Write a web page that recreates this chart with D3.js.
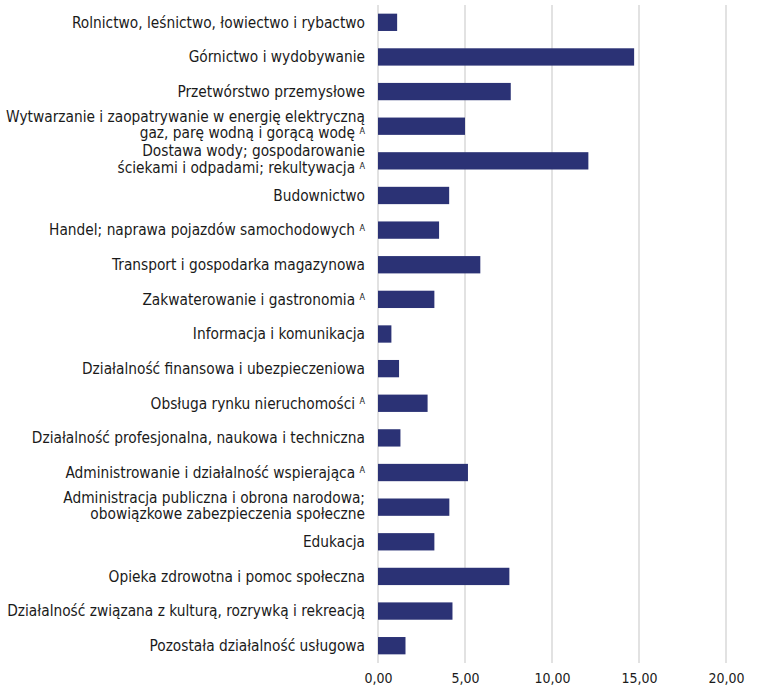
<!DOCTYPE html>
<html>
<head>
<meta charset="utf-8">
<script src="https://cdn.jsdelivr.net/npm/d3@7"></script>
<style>
  body { margin: 0; background: #fff; }
  .label { font-family: "DejaVu Sans Condensed", sans-serif; font-size: 15.3px; fill: #1a1a1a; }
  .tick text { font-family: "DejaVu Sans Condensed", sans-serif; font-size: 14px; fill: #1a1a1a; }
</style>
</head>
<body>
<div id="chart"></div>
<script>

// categories (each entry = lines of the label), "A" footnote flag separate
var categories = [
  ["Rolnictwo, leśnictwo, łowiectwo i rybactwo"],
  ["Górnictwo i wydobywanie"],
  ["Przetwórstwo przemysłowe"],
  ["Wytwarzanie i zaopatrywanie w energię elektryczną", "gaz, parę wodną i gorącą wodę"],
  ["Dostawa wody; gospodarowanie", "ściekami i odpadami; rekultywacja"],
  ["Budownictwo"],
  ["Handel; naprawa pojazdów samochodowych"],
  ["Transport i gospodarka magazynowa"],
  ["Zakwaterowanie i gastronomia"],
  ["Informacja i komunikacja"],
  ["Działalność finansowa i ubezpieczeniowa"],
  ["Obsługa rynku nieruchomości"],
  ["Działalność profesjonalna, naukowa i techniczna"],
  ["Administrowanie i działalność wspierająca"],
  ["Administracja publiczna i obrona narodowa;", "obowiązkowe zabezpieczenia społeczne"],
  ["Edukacja"],
  ["Opieka zdrowotna i pomoc społeczna"],
  ["Działalność związana z kulturą, rozrywką i rekreacją"],
  ["Pozostała działalność usługowa"]
];
var footnoteA = [0,0,0,1,1,0,1,0,1,0,0,1,0,1,0,0,0,0,0];
var values = [1.10, 14.72, 7.63, 5.00, 12.09, 4.09, 3.51, 5.88, 3.24, 0.77, 1.21, 2.85, 1.29, 5.17, 4.10, 3.24, 7.55, 4.28, 1.58];
var xTicks = [0, 5, 10, 15, 20];

var width = 758, height = 697;
var margin = {top: 5, right: 32, bottom: 34, left: 378};

var svg = d3.select("#chart").append("svg")
    .attr("width", width)
    .attr("height", height);

var x = d3.scaleLinear()
    .domain([0, 20])
    .range([margin.left, width - margin.right]);

var y = d3.scaleBand()
    .domain(d3.range(categories.length))
    .range([margin.top, height - margin.bottom])
    .paddingInner(0.5)
    .paddingOuter(0.25);

// gridlines
svg.append("g")
    .selectAll("line")
    .data(xTicks)
    .enter().append("line")
    .attr("x1", function(d) { return x(d); })
    .attr("x2", function(d) { return x(d); })
    .attr("y1", margin.top)
    .attr("y2", height - margin.bottom)
    .attr("stroke", "#d9d9d9")
    .attr("stroke-width", 1.5);

// bars
svg.append("g")
    .selectAll("rect")
    .data(values)
    .enter().append("rect")
    .attr("x", x(0))
    .attr("y", function(d, i) { return y(i); })
    .attr("width", function(d) { return x(d) - x(0); })
    .attr("height", y.bandwidth())
    .attr("fill", "#2b3275");

// category labels
var labels = svg.append("g")
    .selectAll("text")
    .data(categories)
    .enter().append("text")
    .attr("class", "label")
    .attr("text-anchor", "end")
    .attr("x", margin.left - 13)
    .attr("y", function(d, i) { return y(i) + y.bandwidth() / 2; });

labels.each(function(lines, i) {
  var t = d3.select(this);
  var n = lines.length;
  lines.forEach(function(line, k) {
    t.append("tspan")
        .attr("x", margin.left - 13)
        .attr("dy", k === 0 ? (n === 1 ? "0.35em" : "-0.3em") : "1.1em")
        .text(line);
    if (k === n - 1 && footnoteA[i]) {
      t.append("tspan").text("\u00a0");
      t.append("tspan")
          .attr("font-size", "9px")
          .attr("dy", "-0.5em")
          .text("A");
    }
  });
});

// x axis
var xAxis = d3.axisBottom(x)
    .tickValues(xTicks)
    .tickSize(0)
    .tickPadding(10)
    .tickFormat(function(d) { return d3.format(".2f")(d).replace(".", ","); });

svg.append("g")
    .attr("class", "x axis")
    .attr("transform", "translate(0," + (height - margin.bottom) + ")")
    .call(xAxis)
    .call(function(g) { g.select(".domain").remove(); });

</script>
</body>
</html>
